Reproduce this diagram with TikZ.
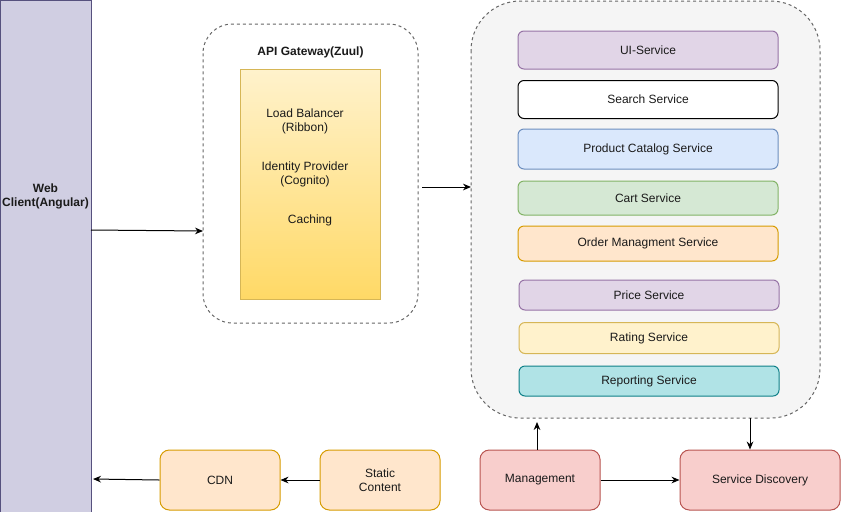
\documentclass[tikz,border=0pt]{standalone}
\usepackage{fontspec}
\setmainfont{Liberation Sans}
\usetikzlibrary{arrows.meta}
\definecolor{wcfill}{HTML}{D0CEE2}\definecolor{wcdraw}{HTML}{56517E}
\definecolor{ylA}{HTML}{FFF2CC}\definecolor{ylB}{HTML}{FFD966}\definecolor{yldraw}{HTML}{D6B656}
\definecolor{pufill}{HTML}{E1D5E7}\definecolor{pudraw}{HTML}{9673A6}
\definecolor{blfill}{HTML}{DAE8FC}\definecolor{bldraw}{HTML}{6C8EBF}
\definecolor{grfill}{HTML}{D5E8D4}\definecolor{grdraw}{HTML}{82B366}
\definecolor{orfill}{HTML}{FFE6CC}\definecolor{ordraw}{HTML}{D79B00}
\definecolor{tefill}{HTML}{B0E3E6}\definecolor{tedraw}{HTML}{0E8088}
\definecolor{rdfill}{HTML}{F8CECC}\definecolor{rddraw}{HTML}{B85450}
\definecolor{cofill}{HTML}{F5F5F5}\definecolor{codraw}{HTML}{666666}
\definecolor{txt}{HTML}{1A1A1A}
\begin{document}
\begin{tikzpicture}[x=0.75pt,y=-0.75pt,font=\fontsize{9}{10.5}\selectfont,text=txt,
  svc/.style={draw,rounded corners=4.5pt,minimum width=195pt,inner sep=0pt,align=center,line width=0.75pt},
  box/.style={draw,rounded corners=7pt,minimum width=90pt,minimum height=45pt,inner sep=0pt,align=center,line width=0.75pt},
  conn/.style={-{Stealth[length=6pt,width=5pt]},line width=0.75pt,black},
  lbl/.style={align=center,inner sep=0pt}]
\useasboundingbox (0,0) rectangle (841,511);
\begin{scope}
\clip (0,0) rectangle (841,511);
% web client
\fill[wcfill,draw=wcdraw,line width=0.75pt] (0.5,0.5) rectangle (91,530);
\node[lbl,font=\fontsize{9}{10.5}\selectfont\bfseries] (wc) at (45.5,196) {Web\\Client(Angular)};
\coordinate (wcr) at (91,230);
\coordinate (wcb) at (91,479);
% gateway
\draw[codraw,dashed,dash pattern=on 2.25pt off 2.25pt,rounded corners=22pt,line width=0.75pt] (203,24) rectangle (418,323);
\coordinate (gwl) at (203,231);
\coordinate (gwr) at (418,187);
\node[lbl,font=\fontsize{9}{10.5}\selectfont\bfseries] (gwt) at (310.5,52) {API Gateway(Zuul)};
\shade[top color=ylA,bottom color=ylB,draw=yldraw,line width=0.75pt] (240,69) rectangle (380,299);
\node[draw=none,minimum width=105pt,minimum height=172.5pt] (yl) at (310,184) {};
\node[lbl] (lb) at (305,121) {Load Balancer\\(Ribbon)};
\node[lbl] (ip) at (305,174) {Identity Provider\\(Cognito)};
\node[lbl] (ca) at (310,220) {Caching};
% container
\draw[codraw,fill=cofill,dash pattern=on 2.25pt off 2.25pt,rounded corners=37pt,line width=0.75pt] (471,1) rectangle (820,418);
\coordinate (cl) at (471,187);
\coordinate (cbm) at (537,418);
\coordinate (cbs) at (750,418);
% services
\node[svc,fill=pufill,draw=pudraw,minimum height=28.5pt] (ui) at (648,50) {UI-Service};
\node[svc,fill=white,draw=black,minimum height=28.5pt] (se) at (648,99.5) {Search Service};
\node[svc,fill=blfill,draw=bldraw,minimum height=30pt] (pc) at (648,149) {Product Catalog Service};
\node[svc,fill=grfill,draw=grdraw,minimum height=25.5pt] (cs) at (648,198) {Cart Service};
\node[svc,fill=orfill,draw=ordraw,minimum height=26.25pt] (om) at (648,243.5) {Order Managment Service};
\node[svc,fill=pufill,draw=pudraw,minimum height=22.5pt] (pr) at (649,295) {Price Service};
\node[svc,fill=ylA,draw=yldraw,minimum height=23.25pt] (ra) at (649,338) {Rating Service};
\node[svc,fill=tefill,draw=tedraw,minimum height=22.5pt] (rp) at (649,381) {Reporting Service};
% bottom boxes
\node[box,fill=orfill,draw=ordraw] (cdn) at (220,480) {CDN};
\node[box,fill=orfill,draw=ordraw] (st) at (380,480) {Static\\Content};
\node[box,fill=rdfill,draw=rddraw] (mg) at (540,480) {Management};
\node[box,fill=rdfill,draw=rddraw,minimum width=120pt] (sd) at (760,480) {Service Discovery};
% connectors
\draw[conn] (wcr) -- (gwl);
\draw[conn] (gwr) ++(4,0) -- (cl);
\draw[conn] (mg.north -| cbm) -- ([yshift=-3pt]cbm);
\draw[conn] (cbs) -- (sd.north -| cbs);
\draw[conn] (mg) -- (sd);
\draw[conn] (st) -- (cdn);
\draw[conn] (cdn.west) -- ([xshift=1.5pt]wcb);
\end{scope}
\end{tikzpicture}
\end{document}
